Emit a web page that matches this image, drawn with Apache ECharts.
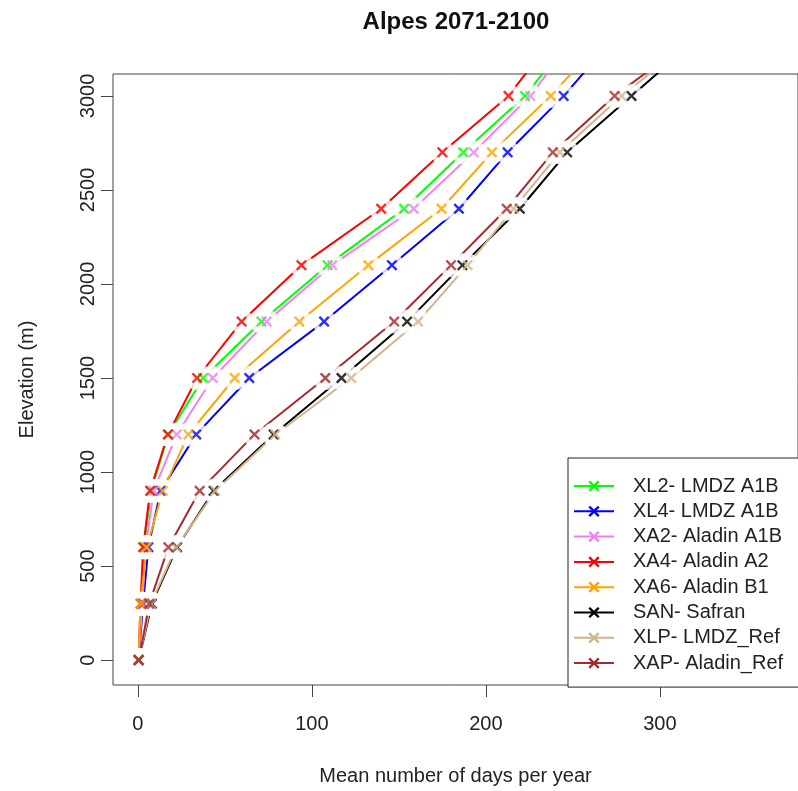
<!DOCTYPE html>
<html>
<head>
<meta charset="utf-8">
<script src="https://cdn.jsdelivr.net/npm/echarts@6/dist/echarts.min.js"></script>
<style>
html,body{margin:0;padding:0;background:#fff;}
#chart{width:798px;height:791px;}
</style>
</head>
<body>
<div id="chart"></div>
<script>
// Elevation levels (m)
var elevations = [0, 300, 600, 900, 1200, 1500, 1800, 2100, 2400, 2700, 3000, 3300];

// Mean number of days per year, one array per series
var xl2 = [0.3, 2, 3.5, 7.5, 17.5, 37.5, 71, 109, 153, 187, 222.5, 248];
var xl4 = [0.3, 3, 6, 13, 33.5, 64, 107, 146, 184.5, 212.5, 244.7, 273];
var xa2 = [0.3, 2.5, 4.5, 9, 22.3, 43, 74, 111.7, 158.5, 193, 225.5, 250];
var xa4 = [0.3, 1.5, 3, 7, 17.2, 34, 59.6, 94, 139.8, 175, 213, 238];
var xa6 = [0.3, 1.5, 5, 14.3, 29, 55.6, 92.8, 132.4, 174.5, 203.5, 237.3, 267];
var san = [0.5, 8, 22.5, 43.5, 78, 117, 154.7, 186.5, 219.5, 246.7, 283.7, 321];
var xlp = [0.5, 7.5, 22, 44.5, 79, 122.6, 161, 189.5, 216, 242.5, 278, 319];
var xap = [0.5, 6.5, 17.5, 35.5, 67, 107.7, 147.3, 180, 212, 238.5, 274, 318];

var seriesNames = ['XL2- LMDZ A1B', 'XL4- LMDZ A1B', 'XA2- Aladin A1B', 'XA4- Aladin A2',
                   'XA6- Aladin B1', 'SAN- Safran', 'XLP- LMDZ_Ref', 'XAP- Aladin_Ref'];
var seriesValues = [xl2, xl4, xa2, xa4, xa6, san, xlp, xap];
var seriesColors = ['#00ff00', '#0000ff', '#ee82ee', '#ff0000', '#ffa500', '#000000', '#d2b48c', '#a52a2a'];

var xTicks = [0, 100, 200, 300];
var yTicks = [0, 500, 1000, 1500, 2000, 2500, 3000];

var FONT = "'Liberation Sans', Arial, sans-serif";
var XSYM = 'path://M0,1.5L1.5,0L5,3.5L8.5,0L10,1.5L6.5,5L10,8.5L8.5,10L5,6.5L1.5,10L0,8.5L3.5,5Z';

function pairs(vals) {
  return vals.map(function (v, i) { return [v, elevations[i]]; });
}
function plain(v) { return String(v); }

var series = [];
// lines
seriesValues.forEach(function (vals, k) {
  series.push({
    name: seriesNames[k], type: 'line', data: pairs(vals),
    symbol: XSYM, symbolSize: 11, showSymbol: true,
    color: seriesColors[k],
    lineStyle: { width: 2, color: seriesColors[k] },
    itemStyle: { color: seriesColors[k] },
    z: 2, clip: true, silent: true, animation: false
  });
});
// white gaps around points (R type="b")
var gapData = [];
seriesValues.forEach(function (vals) { gapData = gapData.concat(pairs(vals)); });
series.push({
  type: 'scatter', data: gapData, symbol: 'circle', symbolSize: 24,
  itemStyle: { color: '#ffffff' }, z: 3, silent: true, clip: true, animation: false
});
// markers
seriesValues.forEach(function (vals, k) {
  series.push({
    name: seriesNames[k], type: 'scatter', data: pairs(vals),
    symbol: XSYM, symbolSize: 11,
    itemStyle: { color: seriesColors[k] },
    z: 4, silent: true, clip: true, animation: false
  });
});

var chart = echarts.init(document.getElementById('chart'), null, { renderer: 'canvas' });
chart.setOption({
  backgroundColor: '#ffffff',
  animation: false,
  textStyle: { fontFamily: FONT },
  title: {
    text: 'Alpes 2071-2100', left: 456, top: 10, textAlign: 'center', padding: 0,
    textStyle: { fontFamily: FONT, fontSize: 24, fontWeight: 'bold', color: '#111' }
  },
  grid: {
    left: 113, top: 74, width: 687, height: 614,
    show: true, borderColor: '#444', borderWidth: 1, containLabel: false
  },
  xAxis: {
    type: 'value', min: -14.33, max: 379.4,
    name: 'Mean number of days per year', nameLocation: 'middle', nameGap: 81,
    nameTextStyle: { fontFamily: FONT, fontSize: 20, color: '#222' },
    axisLine: { show: false, onZero: false },
    axisTick: { show: true, inside: false, length: 12, customValues: xTicks, lineStyle: { color: '#444', width: 1 } },
    axisLabel: { customValues: xTicks, formatter: plain, margin: 29, fontFamily: FONT, fontSize: 20, color: '#222' },
    splitLine: { show: false }
  },
  yAxis: {
    type: 'value', min: -132.3, max: 3116.4,
    name: 'Elevation (m)', nameLocation: 'middle', nameGap: 76,
    nameTextStyle: { fontFamily: FONT, fontSize: 20, color: '#222' },
    axisLine: { show: false, onZero: false },
    axisTick: { show: true, inside: false, length: 12, customValues: yTicks, lineStyle: { color: '#444', width: 1 } },
    axisLabel: { customValues: yTicks, formatter: plain, rotate: 90, margin: 15, fontFamily: FONT, fontSize: 20, color: '#222' },
    splitLine: { show: false }
  },
  legend: {
    orient: 'vertical', left: 568, top: 458,
    padding: [18, 24, 14, 5],
    itemWidth: 40, itemHeight: 14, itemGap: 5.3,
    backgroundColor: '#ffffff', borderColor: '#222', borderWidth: 1, borderRadius: 0,
    textStyle: { fontFamily: FONT, fontSize: 20, color: '#222', lineHeight: 20, padding: [0, 0, 0, 14] },
    data: seriesNames, selectedMode: false, z: 10
  },
  series: series
});
</script>
</body>
</html>
